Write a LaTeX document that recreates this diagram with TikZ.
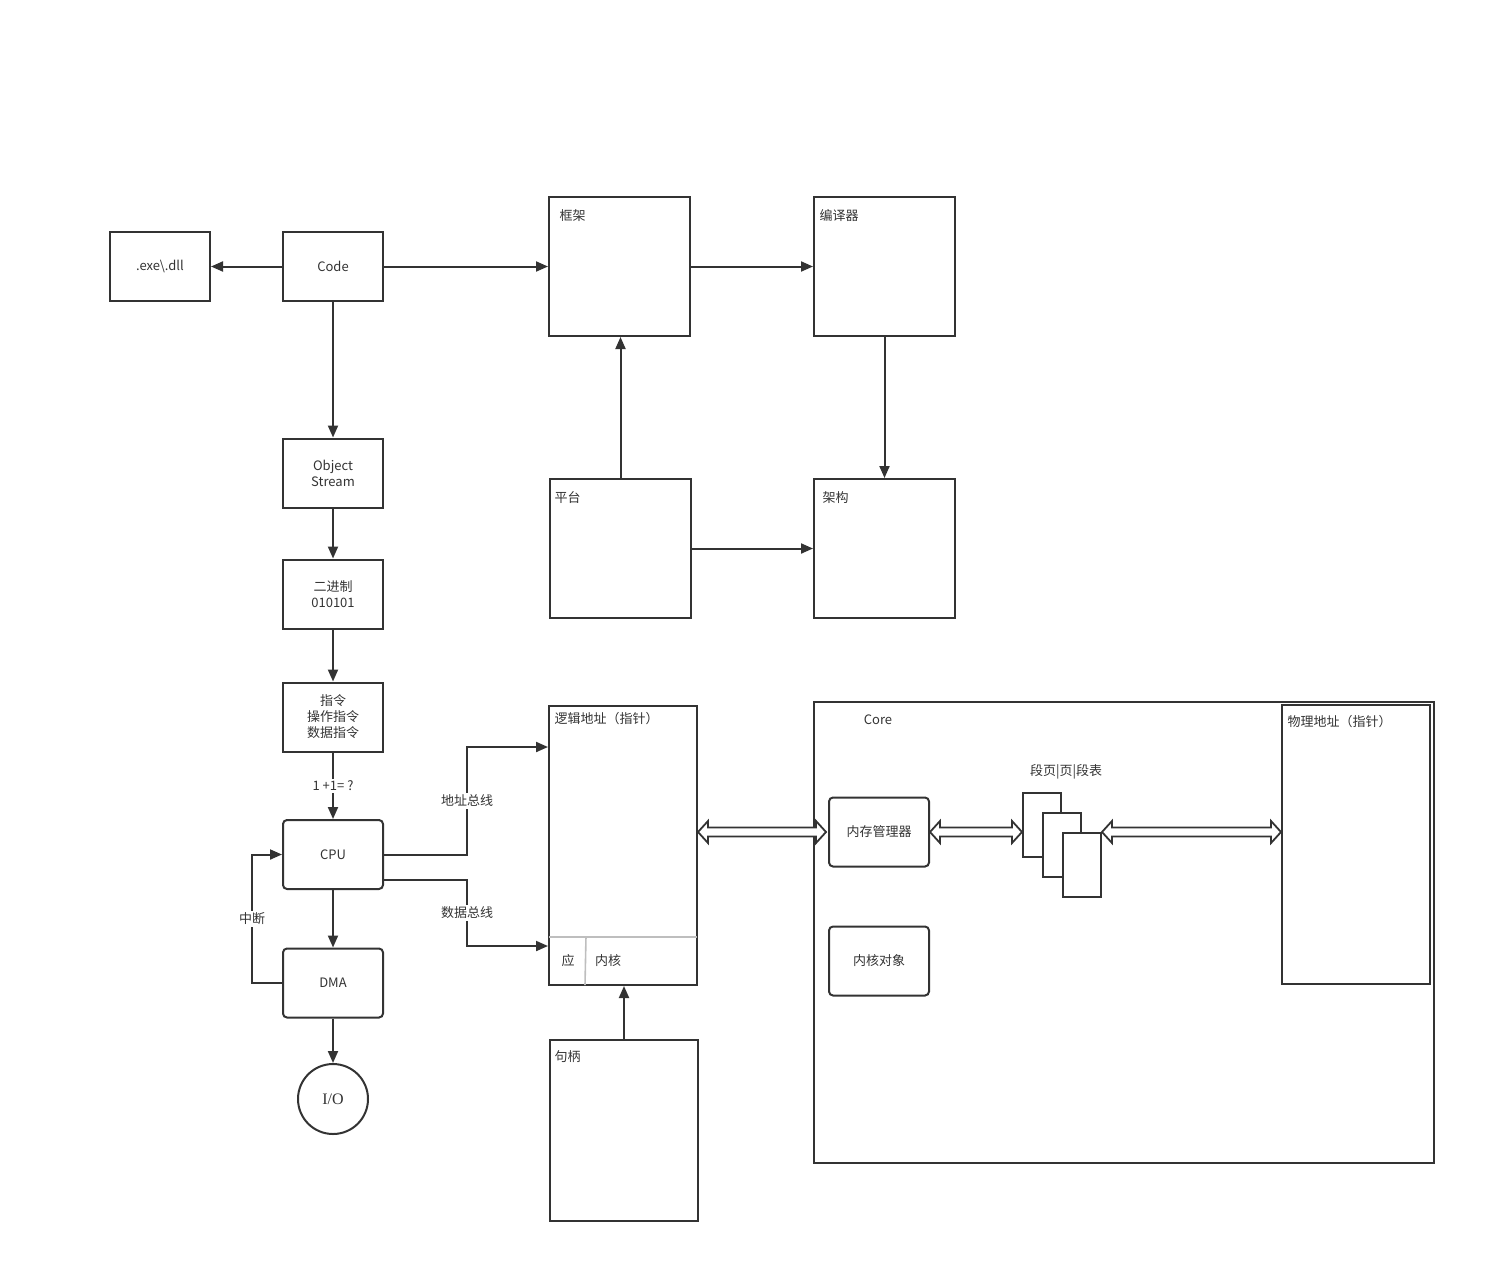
\documentclass[tikz,border=0pt]{standalone}
\usepackage{fontspec}
\setmainfont{Noto Sans CJK SC}
\newfontfamily\iofont{Liberation Serif}
\usetikzlibrary{positioning,arrows.meta,calc}
\definecolor{linecol}{RGB}{51,51,51}
\definecolor{splitcol}{RGB}{190,190,190}
\tikzset{
  sq box/.style={
    draw=linecol,
    line width=2pt,
    inner sep=0pt,
    align=center,
    text=linecol,
    font=\fontsize{13}{16}\selectfont
  },
  small box/.style={
    sq box,
    minimum width=100pt,
    minimum height=69pt
  },
  round box/.style={
    small box,
    rounded corners=4pt
  },
  big box/.style={
    sq box,
    minimum width=141pt,
    minimum height=139pt
  },
  tall box/.style={
    sq box,
    minimum width=148pt,
    minimum height=279pt
  },
  page box/.style={
    sq box,
    fill=white,
    minimum width=38pt,
    minimum height=64pt
  },
  corner text/.style={
    anchor=west,
    text=linecol,
    font=\fontsize{13}{16}\selectfont
  },
  tag/.style={
    fill=white,
    inner sep=2pt,
    text=linecol,
    font=\fontsize{13}{16}\selectfont
  },
  arrow/.style={
    ->,
    >={Triangle[length=12pt,width=10pt]},
    draw=linecol,
    line width=2pt
  },
  bus/.style={
    draw=linecol,
    fill=white,
    line width=1.8pt,
    line join=miter
  }
}
% hollow two-headed bus between two points on one level
\newcommand\busarrow[2]{%
  \draw[bus] (#1) -- ([shift={(10,-11)}]#1) -- ([shift={(10,-4.5)}]#1)
    -- ([shift={(-10,-4.5)}]#2) -- ([shift={(-10,-11)}]#2) -- (#2)
    -- ([shift={(-10,11)}]#2) -- ([shift={(-10,4.5)}]#2)
    -- ([shift={(10,4.5)}]#1) -- ([shift={(10,11)}]#1) -- cycle;}
\begin{document}
\begin{tikzpicture}[x=1pt,y=-1pt]
  \useasboundingbox (0,0) rectangle (1495,1283);

  % Code and its products
  \node[small box] (exe) at (160,266.5) {.exe\textbackslash.dll};
  \node[small box] (code) at (333,266.5) {Code};
  \node[small box] (obj) at (333,473) {Object\\Stream};
  \node[small box] (bin) at (333,594) {二进制\\010101};
  \node[small box] (instr) at (333,717) {指令\\操作指令\\数据指令};
  \node[round box] (cpu) at (333,854.5) {CPU};
  \node[round box] (dma) at (333,983) {DMA};
  \node[sq box, circle, minimum size=70pt, font=\iofont\fontsize{16}{18}\selectfont] (io) at (333,1099) {I/O};

  % Framework block
  \node[big box] (frame) at (619.5,266.5) {};
  \node[corner text] at ($(frame.north west)+(8,20)$) {框架};
  \node[big box] (comp) at (884.5,266.5) {};
  \node[corner text] at ($(comp.north west)+(3,20)$) {编译器};
  \node[big box] (plat) at (620.5,548.5) {};
  \node[corner text] at ($(plat.north west)+(2,20)$) {平台};
  \node[big box] (arch) at (884.5,548.5) {};
  \node[corner text] at ($(arch.north west)+(6,20)$) {架构};

  % Logical address and handle
  \node[tall box] (logic) at (623,845.5) {};
  \node[corner text] at ($(logic.north west)+(3,14)$) {逻辑地址（指针）};
  \draw[splitcol, line width=1.6pt] ($(logic.south west)+(1,-49)$) -- ($(logic.south east)+(-1,-49)$);
  \draw[splitcol, line width=1.6pt] (586,936) -- ($(logic.south west)+(37,-1)$);
  \node[text=linecol, font=\fontsize{13}{16}\selectfont] (app) at (568,961) {应};
  \node[text=linecol, font=\fontsize{13}{16}\selectfont] (kern) at (608,961) {内核};
  \node[sq box, minimum width=148pt, minimum height=181pt] (handle) at (624,1130.5) {};
  \node[corner text] at ($(handle.north west)+(2,18)$) {句柄};

  % Core
  \node[sq box, minimum width=620pt, minimum height=461pt] (core) at (1124,932.5) {};
  \node[tag, fill=none] (corelbl) at (878,720) {Core};
  \node[round box] (mmu) at (879,832) {内存管理器};
  \node[round box] (kobj) at (879,961) {内核对象};
  \node[tag, fill=none] (pglbl) at (1066,772) {段页|页|段表};
  \node[page box] (p1) at (1042,825) {};
  \node[page box] (p2) at (1062,845) {};
  \node[page box] (p3) at (1082,865) {};
  \node[tall box] (phys) at (1356,844.5) {};
  \node[corner text] at ($(phys.north west)+(3,18)$) {物理地址（指针）};

  % Connectors
  \draw[arrow] (code.west) -- (exe.east);
  \draw[arrow] (code.east) -- (frame.west);
  \draw[arrow] (frame.east) -- (comp.west);
  \draw[arrow] (comp.south) -- (arch.north);
  \draw[arrow] (plat.north) -- (plat.north |- frame.south);
  \draw[arrow] (plat.east) -- (plat.east -| arch.west);
  \draw[arrow] (code.south) -- (obj.north);
  \draw[arrow] (obj.south) -- (bin.north);
  \draw[arrow] (bin.south) -- (instr.north);
  \draw[arrow] (instr.south) -- node[tag] {1 +1= ?} (cpu.north);
  \draw[arrow] (cpu.south) -- (dma.north);
  \draw[arrow] (dma.south) -- (io.north);
  \draw[arrow] (dma.west) -- ++(-30,0) |- node[tag, pos=0.25] {中断} (cpu.west);
  \draw[arrow] (cpu.east) -- ++(83,0) |- node[tag, pos=0.25] {地址总线} ($(logic.north west)+(0,42)$);
  \draw[arrow] ($(cpu.east)+(0,25.5)$) -- ++(83,0) |- node[tag, pos=0.25] {数据总线} ($(logic.south west)+(0,-40)$);
  \draw[arrow] (handle.north) -- (handle.north |- logic.south);

  % Buses
  \coordinate (bus1a) at (logic.east |- mmu.west);
  \coordinate (bus1b) at ($(mmu.west)+(-2,0)$);
  \coordinate (bus2b) at (mmu.east -| p1.west);
  \coordinate (bus3a) at (p3.east |- mmu.east);
  \coordinate (bus3b) at (phys.west |- mmu.east);
  \busarrow{bus1a}{bus1b}
  \busarrow{mmu.east}{bus2b}
  \busarrow{bus3a}{bus3b}
\end{tikzpicture}
\end{document}
